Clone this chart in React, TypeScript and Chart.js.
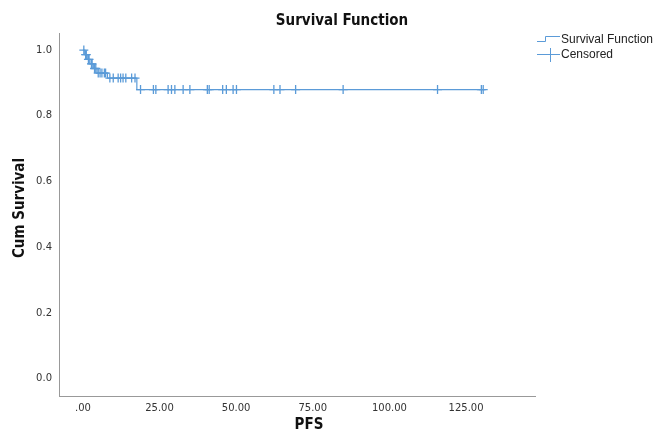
import React, { useEffect, useRef } from "react";
import { Chart, registerables } from "chart.js";

Chart.register(...registerables);

const stepTimes = [0, 0.6, 1.4, 2.3, 3.4, 4.6, 8.0, 17.6, 131.1];
const stepSurv = [1.0, 0.986, 0.972, 0.958, 0.944, 0.93, 0.915, 0.88, 0.88];

const censTimes = [
  0.3, 0.9, 1.1, 1.8, 2.0, 2.8, 3.0, 3.8, 4.2, 5.0, 5.6, 6.2, 7.0, 7.4,
  8.8, 9.9, 11.5, 12.3, 13.1, 14.0, 15.9, 17.0,
  18.8, 23.0, 23.8, 27.8, 28.9, 30.0, 32.7, 34.9, 40.6, 41.2, 45.6, 46.8, 49.0, 50.1,
  62.3, 64.3, 69.4, 84.9, 115.7, 130.0, 130.6,
];
const censSurv = [
  1.0, 0.986, 0.986, 0.972, 0.972, 0.958, 0.958, 0.944, 0.944, 0.93, 0.93, 0.93, 0.93, 0.93,
  0.915, 0.915, 0.915, 0.915, 0.915, 0.915, 0.915, 0.915,
  0.88, 0.88, 0.88, 0.88, 0.88, 0.88, 0.88, 0.88, 0.88, 0.88, 0.88, 0.88, 0.88, 0.88,
  0.88, 0.88, 0.88, 0.88, 0.88, 0.88, 0.88,
];

const yTicks = [0, 0.2, 0.4, 0.6, 0.8, 1.0];
const xTicks = [0, 25, 50, 75, 100, 125];
const xTickLabels = [".00", "25.00", "50.00", "75.00", "100.00", "125.00"];

const chartTitle = "Survival Function";
const xTitle = "PFS";
const yTitle = "Cum Survival";
const legendLabels = ["Survival Function", "Censored"];

const LINE = "#5b9bd8";

export default function App() {
  const ref = useRef<HTMLCanvasElement | null>(null);
  useEffect(() => {
    if (!ref.current) return;
    const overlay = {
      id: "overlay",
      afterDraw(chart: any) {
        const ctx = chart.ctx;
        ctx.save();
        ctx.fillStyle = "#111";
        ctx.textAlign = "center";
        ctx.textBaseline = "middle";
        ctx.font = "bold 15px 'Liberation Sans Narrow', 'DejaVu Sans Condensed', sans-serif";
        ctx.fillText(chartTitle, 342, 21);
        ctx.fillText(xTitle, 309, 425);
        ctx.translate(20, 208);
        ctx.rotate(-Math.PI / 2);
        ctx.fillText(yTitle, 0, 0);
        ctx.restore();

        // legend
        ctx.save();
        ctx.strokeStyle = LINE;
        ctx.lineWidth = 1;
        ctx.beginPath();
        ctx.moveTo(537, 41.5);
        ctx.lineTo(545.5, 41.5);
        ctx.lineTo(545.5, 36.5);
        ctx.lineTo(560, 36.5);
        ctx.stroke();
        ctx.beginPath();
        ctx.moveTo(537, 54.5);
        ctx.lineTo(560, 54.5);
        ctx.moveTo(550.5, 48);
        ctx.lineTo(550.5, 62);
        ctx.stroke();
        ctx.fillStyle = "#222";
        ctx.textAlign = "left";
        ctx.textBaseline = "middle";
        ctx.font = "12px 'Liberation Sans', Arial, sans-serif";
        ctx.fillText(legendLabels[0], 561, 40);
        ctx.fillText(legendLabels[1], 561, 55);
        ctx.restore();
      },
    };
    const chart = new Chart(ref.current, {
      type: "line",
      data: {
        datasets: [
          {
            label: legendLabels[0],
            data: stepTimes.map((t, i) => ({ x: t, y: stepSurv[i] })),
            stepped: true,
            borderColor: LINE,
            borderWidth: 1.2,
            pointRadius: 0,
            fill: false,
          },
          {
            label: legendLabels[1],
            type: "scatter",
            data: censTimes.map((t, i) => ({ x: t, y: censSurv[i] })),
            pointStyle: "cross",
            pointRadius: 4.5,
            borderColor: LINE,
            backgroundColor: LINE,
            borderWidth: 1.3,
            showLine: false,
          } as any,
        ],
      },
      options: {
        animation: false,
        responsive: false,
        maintainAspectRatio: false,
        layout: { padding: { left: 0, top: 33, right: 122, bottom: 0 } },
        plugins: { legend: { display: false }, title: { display: false }, tooltip: { enabled: false } },
        scales: {
          x: {
            type: "linear",
            min: -7.8,
            max: 147.5,
            grid: { display: false, drawTicks: false },
            border: { display: true, color: "#999", width: 1 },
            afterBuildTicks: (s: any) => {
              s.ticks = xTicks.map((v) => ({ value: v }));
            },
            afterFit: (s: any) => {
              s.height = 43;
            },
            ticks: {
              padding: 6,
              color: "#333",
              font: { family: "'DejaVu Sans', sans-serif", size: 10 },
              maxRotation: 0,
              autoSkip: false,
              callback: (v: any) => {
                const i = xTicks.indexOf(Number(v));
                return i >= 0 ? xTickLabels[i] : "";
              },
            },
          },
          y: {
            type: "linear",
            min: -0.052,
            max: 1.052,
            grid: { display: false, drawTicks: false },
            border: { display: true, color: "#999", width: 1 },
            afterBuildTicks: (s: any) => {
              s.ticks = yTicks.map((v) => ({ value: v }));
            },
            afterFit: (s: any) => {
              s.width = 59;
            },
            ticks: {
              padding: 7,
              color: "#333",
              font: { family: "'DejaVu Sans', sans-serif", size: 10 },
              autoSkip: false,
              callback: (v: any) => Number(v).toFixed(1),
            },
          },
        },
      },
      plugins: [overlay],
    });
    return () => chart.destroy();
  }, []);
  return (
    <div style={{ position: "fixed", left: 0, top: 0, width: 657, height: 439, background: "#fff" }}>
      <canvas ref={ref} width={657} height={439} style={{ width: 657, height: 439 }} />
    </div>
  );
}
